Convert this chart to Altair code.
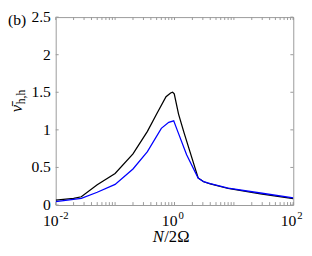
import altair as alt
import pandas as pd

# --- data ---
x_black = [0.01, 0.02, 0.027, 0.05, 0.1, 0.2, 0.35, 0.5, 0.72, 0.86, 0.93, 0.99, 1.17, 1.45, 2.5, 3.1, 4.0, 8.0, 28.0, 100.0]
y_black = [0.065, 0.09, 0.11, 0.27, 0.42, 0.68, 0.98, 1.21, 1.44, 1.49, 1.5, 1.48, 1.21, 0.96, 0.36, 0.31, 0.28, 0.22, 0.15, 0.085]
x_blue = [0.01, 0.027, 0.05, 0.1, 0.2, 0.35, 0.6, 0.8, 0.97, 1.12, 1.6, 2.5, 3.1, 4.0, 8.0, 28.0, 100.0]
y_blue = [0.045, 0.09, 0.17, 0.275, 0.48, 0.71, 1.02, 1.1, 1.12, 0.99, 0.67, 0.36, 0.31, 0.285, 0.225, 0.16, 0.095]

y_ticks = [0, 0.5, 1, 1.5, 2, 2.5]
y_labels = ["0", "0.5", "1", "1.5", "2", "2.5"]
x_major = [0.01, 1, 100]
x_sup = ["-2", "0", "2"]
x_minor = [m * 10 ** e for e in (-2, -1, 0, 1) for m in range(2, 11)]

W, H = 244, 193
FONT = "'Liberation Serif', 'Times New Roman', 'DejaVu Serif', serif"

df = pd.concat([
    pd.DataFrame({"x": x_black, "y": y_black, "s": "black"}),
    pd.DataFrame({"x": x_blue, "y": y_blue, "s": "blue"}),
])

xs = alt.Scale(type="log", domain=[0.01, 100], nice=False)
ys = alt.Scale(domain=[0, 2.5], nice=False)

lines = alt.Chart(df).mark_line(strokeWidth=1.3, clip=True).encode(
    x=alt.X("x:Q", scale=xs, axis=None),
    y=alt.Y("y:Q", scale=ys, axis=None),
    color=alt.Color("s:N", scale=alt.Scale(domain=["black", "blue"], range=["#000000", "#0000ff"]), legend=None),
    detail="s:N",
)

xt = pd.DataFrame({"x": x_minor + x_major})
tick_color = "#999999"
xb = alt.Chart(xt).mark_rule(color=tick_color, strokeWidth=1).encode(
    x=alt.X("x:Q", scale=xs), y=alt.value(H), y2=alt.value(H - 3))
xtop = alt.Chart(xt).mark_rule(color=tick_color, strokeWidth=1).encode(
    x=alt.X("x:Q", scale=xs), y=alt.value(0), y2=alt.value(3))
yt = pd.DataFrame({"y": y_ticks, "lab": y_labels})
yl = alt.Chart(yt).mark_rule(color=tick_color, strokeWidth=1).encode(
    y=alt.Y("y:Q", scale=ys), x=alt.value(0), x2=alt.value(3))
yr = alt.Chart(yt).mark_rule(color=tick_color, strokeWidth=1).encode(
    y=alt.Y("y:Q", scale=ys), x=alt.value(W - 3), x2=alt.value(W))
ylab = alt.Chart(yt).mark_text(font=FONT, fontSize=16, align="right", baseline="middle").encode(
    y=alt.Y("y:Q", scale=ys), x=alt.value(-5), text="lab:N")

lab = pd.DataFrame({"x": x_major, "sup": x_sup, "base": ["10"] * 3})
ten = alt.Chart(lab).mark_text(font=FONT, fontSize=16, align="right", baseline="alphabetic", dx=3).encode(
    x=alt.X("x:Q", scale=xs), y=alt.value(H + 22), text="base:N")
sup = alt.Chart(lab).mark_text(font=FONT, fontSize=11, align="left", baseline="alphabetic", dx=4).encode(
    x=alt.X("x:Q", scale=xs), y=alt.value(H + 14), text="sup:N")

title_n = alt.Chart(pd.DataFrame({"t": ["N"]})).mark_text(
    font=FONT, fontSize=17, fontStyle="italic", align="right", baseline="alphabetic").encode(
    x=alt.value(111), y=alt.value(H + 38), text="t:N")
title_r = alt.Chart(pd.DataFrame({"t": ["/2Ω"]})).mark_text(
    font=FONT, fontSize=17, align="left", baseline="alphabetic").encode(
    x=alt.value(111.5), y=alt.value(H + 38), text="t:N")

nu = alt.Chart(pd.DataFrame({"t": ["ν̄"]})).mark_text(
    font=FONT, fontSize=17, fontStyle="italic", angle=270, align="center", baseline="alphabetic").encode(
    x=alt.value(-35), y=alt.value(94), text="t:N")
nusub = alt.Chart(pd.DataFrame({"t": ["h,h"]})).mark_text(
    font=FONT, fontSize=12, angle=270, align="center", baseline="alphabetic").encode(
    x=alt.value(-32), y=alt.value(82), text="t:N")
panel = alt.Chart(pd.DataFrame({"t": ["(b)"]})).mark_text(
    font=FONT, fontSize=16, align="left", baseline="alphabetic").encode(
    x=alt.value(-49), y=alt.value(8), text="t:N")

chart = alt.layer(lines, xb, xtop, yl, yr, ylab, ten, sup, title_n, title_r, nu, nusub, panel).properties(
    width=W, height=H,
    autosize=alt.AutoSizeParams(type="none"),
    padding={"left": 49, "top": 6, "right": 11, "bottom": 49},
).configure_view(stroke="#999999", strokeWidth=1)

chart.save("out.html", embed_options={"renderer": "svg", "actions": False})
